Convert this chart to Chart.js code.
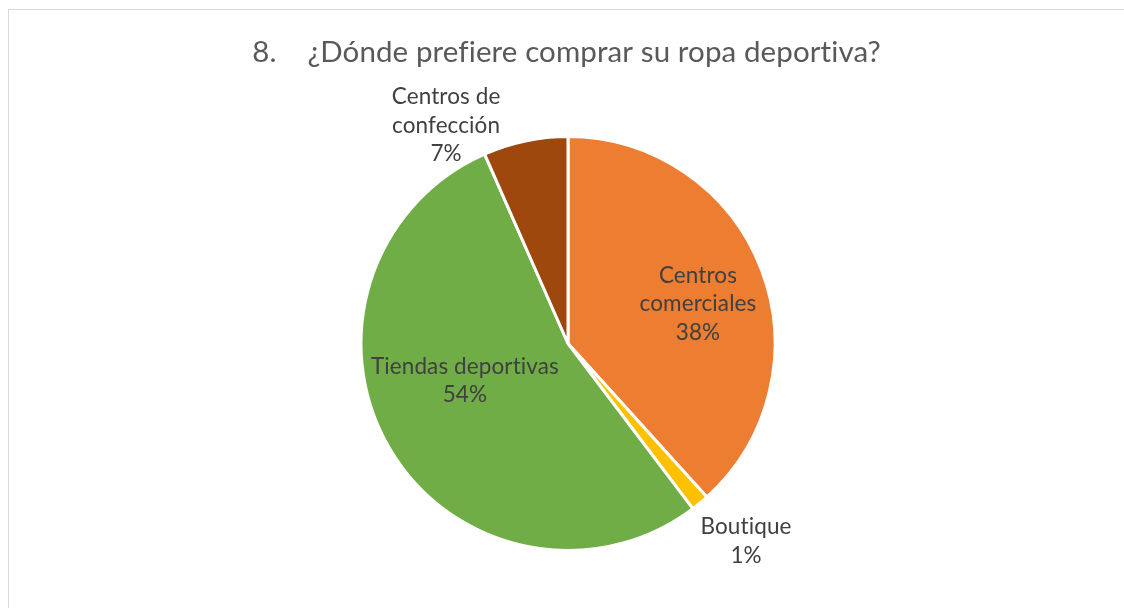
<!DOCTYPE html>
<html>
<head>
<meta charset="utf-8">
<script src="https://cdn.jsdelivr.net/npm/chart.js@4/dist/chart.umd.min.js"></script>
<style>
  html, body { margin: 0; padding: 0; background: #ffffff; overflow: hidden; }
  #frame { position: absolute; left: 8px; top: 9px; width: 1200px; height: 700px; border: 1px solid #d9d9d9; }
  #chart { position: absolute; left: 0; top: 0; }
</style>
</head>
<body>
<div id="frame"></div>
<canvas id="chart" width="1124" height="608"></canvas>
<script>
// Survey question 8: preferred place to buy sportswear (share of answers, %)
const questionNumber = '8.';
const questionText = '¿Dónde prefiere comprar su ropa deportiva?';
const categories = ['Centros comerciales', 'Boutique', 'Tiendas deportivas', 'Centros de confección'];
const shares = [38.3, 1.4, 53.7, 6.6];
const sliceColors = ['#ED7D31', '#FFC000', '#70AD47', '#9E480E'];

// Label layout: block centre relative to the pie centre, in units of the radius,
// and the width at which the category name wraps.
const labelAnchors = [[0.628, -0.155], [0.860, 0.990], [-0.498, 0.215], [-0.589, -1.017]];
const labelWrap = [140, 200, 220, 120];

const FONT_FAMILY = 'Lato, "Open Sans", sans-serif';
const LABEL_FONT = '22.5px ' + FONT_FAMILY;
const LABEL_LINE = 28.5;
const TITLE_FONT = '29.5px ' + FONT_FAMILY;

// a tiny letter spacing keeps "ti"/"fi" as separate glyphs (no ligatures)
function setSpacing(ctx) {
  if ('letterSpacing' in ctx) ctx.letterSpacing = '0.1px';
}

function wrapWords(ctx, text, maxWidth) {
  const words = text.split(' ');
  const lines = [];
  let line = '';
  words.forEach(w => {
    const test = line ? line + ' ' + w : w;
    if (line && ctx.measureText(test).width > maxWidth) {
      lines.push(line);
      line = w;
    } else {
      line = test;
    }
  });
  if (line) lines.push(line);
  return lines;
}

const titlePlugin = {
  id: 'questionTitle',
  afterDraw(chart) {
    const ctx = chart.ctx;
    ctx.save();
    ctx.font = TITLE_FONT;
    setSpacing(ctx);
    ctx.fillStyle = '#595959';
    ctx.textBaseline = 'alphabetic';
    ctx.textAlign = 'left';
    const gap = 31;
    const w1 = ctx.measureText(questionNumber).width;
    const w2 = ctx.measureText(questionText).width;
    const x0 = 566.5 - (w1 + gap + w2) / 2;
    ctx.fillText(questionNumber, x0, 62);
    ctx.fillText(questionText, x0 + w1 + gap, 62);
    ctx.restore();
  }
};

const sliceLabels = {
  id: 'sliceLabels',
  afterDatasetsDraw(chart) {
    const ctx = chart.ctx;
    const meta = chart.getDatasetMeta(0);
    const values = chart.data.datasets[0].data;
    const total = values.reduce((a, b) => a + b, 0);
    ctx.save();
    ctx.font = LABEL_FONT;
    setSpacing(ctx);
    ctx.fillStyle = '#404040';
    ctx.textAlign = 'center';
    ctx.textBaseline = 'alphabetic';
    meta.data.forEach((arc, i) => {
      const { x, y, outerRadius } = arc.getProps(['x', 'y', 'outerRadius'], true);
      const pct = Math.round(values[i] / total * 100) + '%';
      const lines = wrapWords(ctx, chart.data.labels[i], labelWrap[i]).concat([pct]);
      const cx = x + labelAnchors[i][0] * outerRadius;
      const cy = y + labelAnchors[i][1] * outerRadius;
      const first = cy - (lines.length - 1) / 2 * LABEL_LINE;
      lines.forEach((t, k) => ctx.fillText(t, cx, first + k * LABEL_LINE));
    });
    ctx.restore();
  }
};

new Chart(document.getElementById('chart'), {
  type: 'pie',
  data: {
    labels: categories,
    datasets: [{
      data: shares,
      backgroundColor: sliceColors,
      borderColor: '#ffffff',
      borderWidth: 3,
      hoverOffset: 0
    }]
  },
  options: {
    responsive: false,
    devicePixelRatio: 1,
    animation: false,
    radius: 207,
    layout: { padding: { left: 12, right: 0, top: 79, bottom: 0 } },
    plugins: {
      legend: { display: false },
      tooltip: { enabled: false },
      title: { display: false }
    }
  },
  plugins: [titlePlugin, sliceLabels]
});
</script>
</body>
</html>
